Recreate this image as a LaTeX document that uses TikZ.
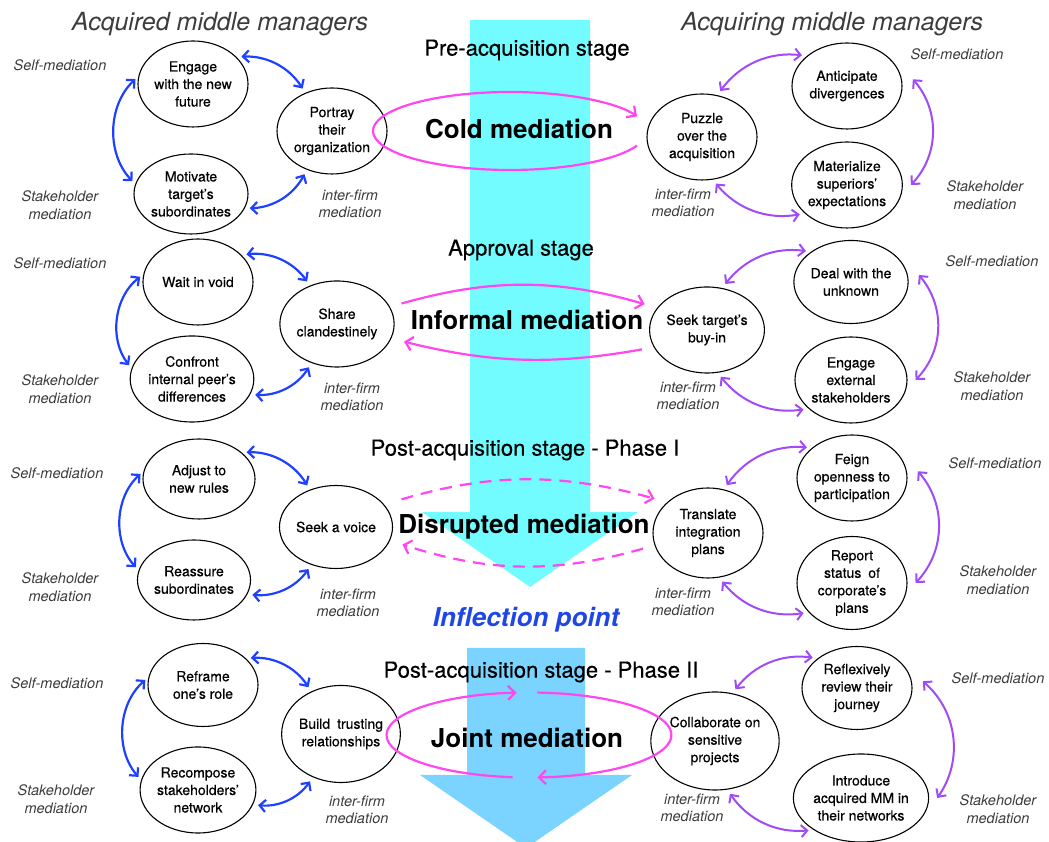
\documentclass[tikz,border=0pt]{standalone}
\usepackage{fontspec}
\setmainfont{TeX Gyre Heros}
\newfontfamily\mmfont{TeX Gyre Heros}[FakeBold=0.4]
\usepackage{xcolor}
\usepackage{tikz}
\usetikzlibrary{shapes.geometric, arrows.meta}

\definecolor{shaftcyan}{RGB}{115,252,255}
\definecolor{shaftsky}{RGB}{122,212,255}
\definecolor{medmagenta}{RGB}{255,70,240}
\definecolor{acqblue}{RGB}{30,64,255}
\definecolor{acqpurple}{RGB}{160,75,247}
\definecolor{inflblue}{RGB}{31,70,230}
\definecolor{labelgray}{RGB}{60,60,60}

\begin{document}
\begin{tikzpicture}[
    x=1pt, y=1pt,
    >={Straight Barb[length=6pt, width=12pt]},
    every node/.style={align=center},
    mmnode/.style={ellipse, draw=black, line width=1.1pt, minimum width=110pt, minimum height=86pt, inner sep=0pt, font=\mmfont\fontsize{14}{17.5}\selectfont},
    sidelabel/.style={font=\fontsize{14.5}{17.5}\selectfont\itshape, text=labelgray},
    sidetitle/.style={font=\fontsize{25}{30}\selectfont\itshape, text=labelgray},
    stagelabel/.style={font=\mmfont\fontsize{22}{26}\selectfont},
    medlabel/.style={font=\fontsize{26}{30}\selectfont\bfseries},
    bluearrow/.style={<->, line width=2.2pt, draw=acqblue, shorten <=5pt, shorten >=5pt},
    purplearrow/.style={<->, line width=2pt, draw=acqpurple, shorten <=5pt, shorten >=5pt},
    medarrow/.style={-{Straight Barb[length=7pt, width=14pt]}, line width=2.2pt, draw=medmagenta, shorten <=12pt, shorten >=13pt},
    medloop/.style={-{Straight Barb[length=7pt, width=14pt]}, line width=2.2pt, draw=medmagenta}
]
\useasboundingbox (0,0) rectangle (1049,842);

% Stage arrows
\fill[shaftcyan] (470,822) -- (590,822) -- (590,330) -- (638,330) -- (530,255) -- (422,330) -- (470,330) -- cycle;
\fill[shaftsky] (467,194) -- (585,194) -- (585,67) -- (632,67) -- (526,-6) -- (420,67) -- (467,67) -- cycle;

% Titles and stages
\node (acquired) [sidetitle] at (220,818) {Acquired middle managers};
\node (acquiring) [sidetitle] at (832,818) {Acquiring middle managers};
\node (pre) [stagelabel] at (527,792) {Pre-acquisition stage};
\node (approval) [stagelabel] at (521,592) {Approval stage};
\node (postone) [stagelabel] at (525,392) {Post-acquisition stage - Phase I};
\node (posttwo) [stagelabel] at (541,170) {Post-acquisition stage - Phase II};
\node (inflection) [font=\fontsize{26}{30}\selectfont\bfseries\itshape, text=inflblue] at (526,222) {Inflection point};

% Pre-acquisition stage
\node (engage) [mmnode] at (193,758) {Engage\\with the new\\future};
\node (motivate) [mmnode, minimum width=114pt, minimum height=80pt] at (191,648) {Motivate\\target’s\\subordinates};
\node (portray) [mmnode] at (332,711) {Portray\\their\\organization};
\node (anticipate) [mmnode] at (847,756) {Anticipate\\divergences};
\node (puzzle) [mmnode] at (702,705) {Puzzle\\over the\\acquisition};
\node (materialize) [mmnode] at (847,657) {Materialize\\superiors’\\expectations};

% Approval stage
\node (wait) [mmnode] at (198,560) {Wait in void};
\node (confront) [mmnode, minimum width=112pt] at (192,463) {Confront\\internal peer’s\\differences};
\node (share) [mmnode] at (337,518) {Share\\clandestinely};
\node (deal) [mmnode, minimum width=112pt, minimum height=83pt] at (851,560) {Deal with the\\unknown};
\node (seek) [mmnode] at (707,512) {Seek target’s\\buy-in};
\node (engext) [mmnode, minimum width=112pt] at (851,462) {Engage\\external\\stakeholders};

% Post-acquisition stage - Phase I
\node (adjust) [mmnode, minimum width=112pt, minimum height=80pt] at (199,363) {Adjust to\\new rules};
\node (reassure) [mmnode, minimum width=112pt, minimum height=80pt] at (194,262) {Reassure\\subordinates};
\node (voice) [mmnode, minimum width=105pt, minimum height=83pt] at (336,315) {Seek a voice};
\node (feign) [mmnode] at (852,364) {Feign\\openness to\\participation};
\node (translate) [mmnode, minimum height=90pt] at (708,309) {Translate\\integration\\plans};
\node (report) [mmnode] at (852,259) {Report\\status\enspace of\\corporate’s\\plans};

% Post-acquisition stage - Phase II
\node (reframe) [mmnode, minimum height=83pt] at (203,157) {Reframe\\one’s role};
\node (recompose) [mmnode] at (198,52) {Recompose\\stakeholders’\\network};
\node (build) [mmnode, minimum width=118pt, minimum height=97pt] at (341,108) {Build\enspace trusting\\relationships};
\node (reflex) [mmnode, minimum height=83pt] at (857,154) {Reflexively\\review their\\journey};
\node (collab) [mmnode, minimum width=120pt, minimum height=98pt] at (715,101) {Collaborate on\\sensitive\\projects};
\node (intro) [mmnode, minimum width=118pt, minimum height=88pt] at (861,44) {Introduce\\acquired MM in\\their networks};

% Mediation labels
\node (selfa) [sidelabel] at (60,777) {Self-mediation};
\node (stakea) [sidelabel] at (60,637) {Stakeholder\\mediation};
\node (intera) [sidelabel] at (350,638) {inter-firm\\mediation};
\node (rselfa) [sidelabel] at (957,788) {Self-mediation};
\node (rstakea) [sidelabel] at (985,647) {Stakeholder\\mediation};
\node (rintera) [sidelabel] at (683,639) {inter-firm\\mediation};
\node (selfb) [sidelabel] at (60,579) {Self-mediation};
\node (stakeb) [sidelabel] at (60,453) {Stakeholder\\mediation};
\node (interb) [sidelabel] at (352,445) {inter-firm\\mediation};
\node (rselfb) [sidelabel] at (992,581) {Self-mediation};
\node (rstakeb) [sidelabel] at (992,456) {Stakeholder\\mediation};
\node (rinterb) [sidelabel] at (688,446) {inter-firm\\mediation};
\node (selfc) [sidelabel] at (57,369) {Self-mediation};
\node (stakec) [sidelabel] at (60,255) {Stakeholder\\mediation};
\node (interc) [sidelabel] at (348,239) {inter-firm\\mediation};
\node (rselfc) [sidelabel] at (995,379) {Self-mediation};
\node (rstakec) [sidelabel] at (998,262) {Stakeholder\\mediation};
\node (rinterc) [sidelabel] at (683,240) {inter-firm\\mediation};
\node (selfd) [sidelabel] at (57,159) {Self-mediation};
\node (staked) [sidelabel] at (56,43) {Stakeholder\\mediation};
\node (interd) [sidelabel] at (357,32) {inter-firm\\mediation};
\node (rselfd) [sidelabel] at (998,164) {Self-mediation};
\node (rstaked) [sidelabel] at (998,33) {Stakeholder\\mediation};
\node (rinterd) [sidelabel] at (692,34) {inter-firm\\mediation};

% Acquired side arrows
\draw [bluearrow, shorten <=4pt, shorten >=4pt] (engage.172) to[bend right=45] (motivate.170);
\draw [bluearrow] (engage.32) to[bend left=30] (portray.125);
\draw [bluearrow] (motivate.345) to[bend right=30] (portray.237);
\draw [bluearrow, shorten <=4pt, shorten >=4pt] (wait.172) to[bend right=45] (confront.170);
\draw [bluearrow] (wait.32) to[bend left=30] (share.125);
\draw [bluearrow] (confront.345) to[bend right=30] (share.237);
\draw [bluearrow, shorten <=4pt, shorten >=4pt] (adjust.172) to[bend right=45] (reassure.170);
\draw [bluearrow] (adjust.32) to[bend left=30] (voice.125);
\draw [bluearrow] (reassure.345) to[bend right=30] (voice.237);
\draw [bluearrow, shorten <=4pt, shorten >=4pt] (reframe.172) to[bend right=45] (recompose.170);
\draw [bluearrow] (reframe.32) to[bend left=30] (build.125);
\draw [bluearrow] (recompose.345) to[bend right=30] (build.237);

% Acquiring side arrows
\draw [purplearrow] (puzzle.70) to[bend left=30] (anticipate.143);
\draw [purplearrow] (puzzle.284) to[bend right=30] (materialize.214);
\draw [purplearrow, shorten <=0pt, shorten >=0pt] ([xshift=11pt]anticipate.7) to[bend left=42] ([xshift=8pt]materialize.0);
\draw [purplearrow] (seek.70) to[bend left=30] (deal.143);
\draw [purplearrow] (seek.284) to[bend right=30] (engext.214);
\draw [purplearrow, shorten <=0pt, shorten >=0pt] ([xshift=11pt]deal.7) to[bend left=42] ([xshift=8pt]engext.0);
\draw [purplearrow] (translate.70) to[bend left=30] (feign.143);
\draw [purplearrow] (translate.284) to[bend right=30] (report.214);
\draw [purplearrow, shorten <=0pt, shorten >=0pt] ([xshift=11pt]feign.7) to[bend left=42] ([xshift=8pt]report.0);
\draw [purplearrow] (collab.70) to[bend left=30] (reflex.143);
\draw [purplearrow] (collab.284) to[bend right=30] (intro.214);
\draw [purplearrow, shorten <=0pt, shorten >=0pt] ([xshift=11pt]reflex.7) to[bend left=42] ([xshift=8pt]intro.0);

% Inter-firm mediation
\node (cold) [medlabel] at (519,713) {Cold mediation};
\node (informal) [medlabel] at (527,522) {Informal mediation};
\node (disrupted) [medlabel] at (524,315) {Disrupted mediation};
\node (joint) [medlabel] at (527,104) {Joint mediation};

\draw [medloop] (cold.center) ++(-9,-2) ++(-22:137 and 39) arc[start angle=-22, end angle=-338, x radius=137, y radius=39];
\draw [medarrow] (share.18) to[bend left=16] (seek.156);
\draw [medarrow] (seek.198) to[bend left=12] (share.-15);
\draw [medarrow, dashed, dash pattern=on 12pt off 8pt, shorten <=18pt] (voice.25) to[bend left=16] (translate.143);
\draw [medarrow, dashed, dash pattern=on 12pt off 8pt] (translate.193) to[bend left=17] (voice.-14);
\draw [medloop] (joint.center) ++(2,3) ++(-96.6:142.5 and 42.5) arc[start angle=-96.6, end angle=-265, x radius=142.5, y radius=42.5];
\draw [medloop] (joint.center) ++(2,3) ++(86.6:142.5 and 42.5) arc[start angle=86.6, end angle=-86.6, x radius=142.5, y radius=42.5];

\end{tikzpicture}
\end{document}
